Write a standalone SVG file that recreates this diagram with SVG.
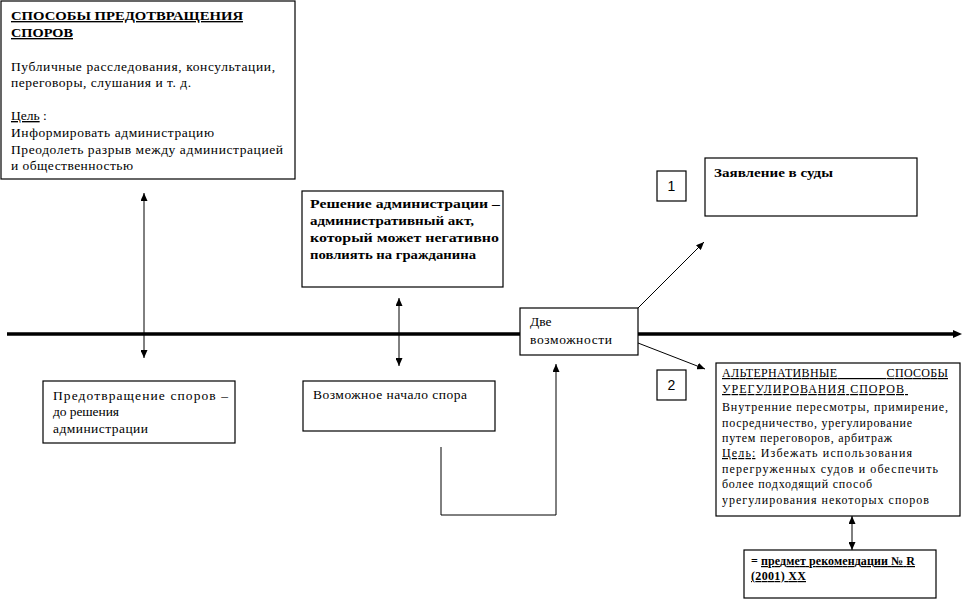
<svg xmlns="http://www.w3.org/2000/svg" width="963" height="601" viewBox="0 0 963 601">
<defs>
<style>
.box{fill:#fff;stroke:#000;stroke-width:1.2}
.t{font-family:"Liberation Serif","Times New Roman",serif;font-size:13.5px;fill:#000}
.ts{font-family:"Liberation Serif","Times New Roman",serif;font-size:12px;fill:#000}
.b{font-weight:bold}
.u{text-decoration:underline}
.n{font-family:"Liberation Sans",Arial,sans-serif;font-size:14px;fill:#000}
.c{fill:none;stroke:#000;stroke-width:1}
</style>
<marker id="ah" markerUnits="userSpaceOnUse" markerWidth="8" markerHeight="7" refX="8" refY="3.5" orient="auto-start-reverse">
<path d="M0,0 L8,3.5 L0,7 z" fill="#000"/>
</marker>
<marker id="ahb" markerUnits="userSpaceOnUse" markerWidth="9" markerHeight="8" refX="0" refY="4" orient="auto">
<path d="M0,0 L9,4 L0,8 z" fill="#000"/>
</marker>
</defs>
<rect width="963" height="601" fill="#fff"/>

<g id="connectors">
<line x1="7" y1="334" x2="953" y2="334" stroke="#000" stroke-width="3.5" marker-end="url(#ahb)"/>
<line class="c" x1="144" y1="193" x2="144" y2="358" marker-start="url(#ah)" marker-end="url(#ah)"/>
<line class="c" x1="399" y1="298" x2="399" y2="366" marker-start="url(#ah)" marker-end="url(#ah)"/>
<polyline class="c" points="441,447 441,515 556,515 556,364" marker-end="url(#ah)"/>
<line class="c" x1="638" y1="308" x2="704" y2="242" marker-end="url(#ah)"/>
<line class="c" x1="638" y1="343" x2="705" y2="369" marker-end="url(#ah)"/>
<line class="c" x1="852" y1="516" x2="852" y2="550" marker-start="url(#ah)" marker-end="url(#ah)"/>
</g>

<g id="prevention">
<rect class="box" x="1" y="1" width="294" height="178"/>
<text class="t b u" x="11" y="20" font-size="14" textLength="232" lengthAdjust="spacingAndGlyphs">СПОСОБЫ ПРЕДОТВРАЩЕНИЯ</text>
<text class="t b u" x="11" y="37" font-size="14" textLength="62" lengthAdjust="spacingAndGlyphs">СПОРОВ</text>
<text class="t" x="11" y="71" textLength="264">Публичные расследования, консультации,</text>
<text class="t" x="11" y="87" textLength="180">переговоры, слушания и т. д.</text>
<text class="t" x="11" y="120"><tspan class="u">Цель</tspan> :</text>
<text class="t" x="11" y="137" textLength="203">Информировать администрацию</text>
<text class="t" x="11" y="154" textLength="272">Преодолеть разрыв между администрацией</text>
<text class="t" x="11" y="170" textLength="122">и общественностью</text>
</g>

<g id="decision">
<rect class="box" x="302" y="191" width="201" height="96"/>
<text class="t b" x="310" y="208" font-size="15" textLength="190" lengthAdjust="spacingAndGlyphs">Решение администрации –</text>
<text class="t b" x="310" y="225" font-size="15" textLength="164" lengthAdjust="spacingAndGlyphs">административный акт,</text>
<text class="t b" x="310" y="242" font-size="15" textLength="189" lengthAdjust="spacingAndGlyphs">который может негативно</text>
<text class="t b" x="310" y="259" font-size="15" textLength="166" lengthAdjust="spacingAndGlyphs">повлиять на гражданина</text>
</g>

<g id="num1">
<rect class="box" x="657" y="171" width="29" height="30"/>
<text class="n" x="671.5" y="191" text-anchor="middle">1</text>
</g>

<g id="courts">
<rect class="box" x="705" y="158" width="212" height="58"/>
<text class="t b" x="714" y="177" font-size="15" textLength="119" lengthAdjust="spacingAndGlyphs">Заявление в суды</text>
</g>

<g id="two">
<rect class="box" x="520" y="308" width="118" height="47"/>
<text class="t" x="530" y="326">Две</text>
<text class="t" x="530" y="344" textLength="82">возможности</text>
</g>

<g id="before">
<rect class="box" x="43" y="381" width="192" height="62"/>
<text class="t" x="53" y="400" textLength="175">Предотвращение споров –</text>
<text class="t" x="53" y="416" textLength="66">до решения</text>
<text class="t" x="53" y="433" textLength="95">администрации</text>
</g>

<g id="start">
<rect class="box" x="303" y="381" width="192" height="50"/>
<text class="t" x="313" y="399" textLength="154">Возможное начало спора</text>
</g>

<g id="num2">
<rect class="box" x="657" y="370" width="29" height="30"/>
<text class="n" x="671.5" y="390" text-anchor="middle">2</text>
</g>

<g id="alternative">
<rect class="box" x="716" y="363" width="244" height="153"/>
<text class="ts u" x="722" y="377" font-size="12.5" textLength="226" style="word-spacing:46px">АЛЬТЕРНАТИВНЫЕ СПОСОБЫ</text>
<text class="ts u" x="722" y="393" font-size="12.5" textLength="186" style="white-space:pre">УРЕГУЛИРОВАНИЯ СПОРОВ </text>
<text class="ts" x="722" y="411" textLength="226">Внутренние пересмотры, примирение,</text>
<text class="ts" x="722" y="427" textLength="190">посредничество, урегулирование</text>
<text class="ts" x="722" y="442" textLength="170">путем переговоров, арбитраж</text>
<text class="ts" x="722" y="457" textLength="190"><tspan class="u">Цель:</tspan> Избежать использования</text>
<text class="ts" x="722" y="473" textLength="216">перегруженных судов и обеспечить</text>
<text class="ts" x="722" y="488" textLength="150">более подходящий способ</text>
<text class="ts" x="722" y="504" textLength="207">урегулирования некоторых споров</text>
</g>

<g id="recommendation">
<rect class="box" x="744" y="550" width="192" height="48"/>
<text class="ts b" x="751" y="565" textLength="164">= <tspan class="u">предмет рекомендации № R</tspan></text>
<text class="ts b u" x="751" y="580" textLength="55">(2001) XX</text>
</g>
</svg>
